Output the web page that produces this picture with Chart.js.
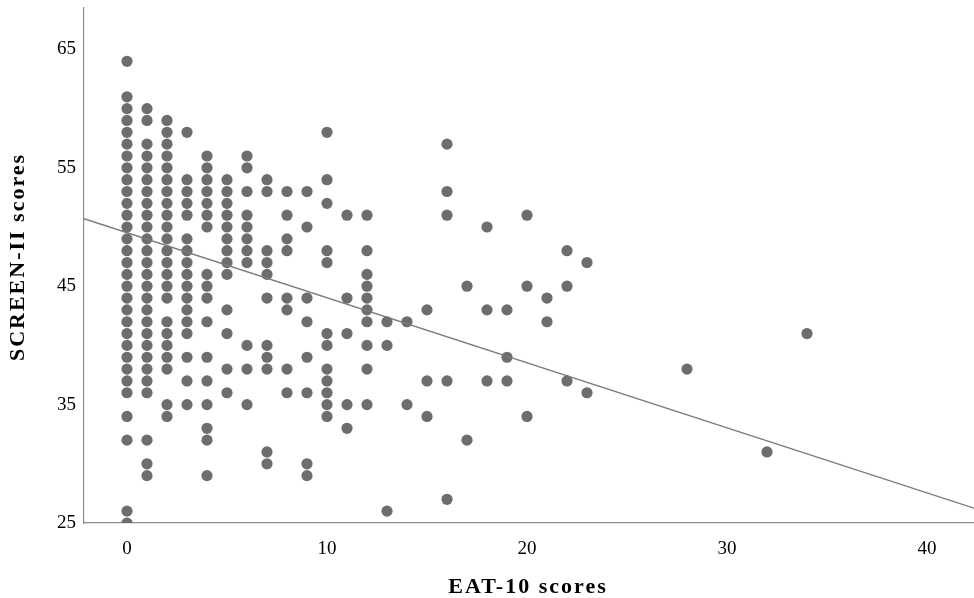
<!DOCTYPE html>
<html>
<head>
<meta charset="utf-8">
<script src="https://cdn.jsdelivr.net/npm/chart.js@4.4.1/dist/chart.umd.min.js"></script>
<style>
  html, body { margin: 0; padding: 0; background: #ffffff; }
  #wrap { width: 974px; height: 598px; }
</style>
</head>
<body>
<div id="wrap"><canvas id="scatter"></canvas></div>
<script>
// EAT-10 vs SCREEN-II scatter with fitted line

// EAT-10 score of each column of dots
var eatLevels = [0, 1, 2, 3, 4, 5, 6, 7, 8, 9, 10, 11, 12, 13, 14, 15, 16, 17, 18, 19, 20, 21, 22, 23, 28, 32, 34];

// SCREEN-II scores seen in each column (same order as eatLevels)
var screenAtLevel = [
  [64, 61, 60, 59, 58, 57, 56, 55, 54, 53, 52, 51, 50, 49, 48, 47, 46, 45, 44, 43, 42, 41, 40, 39, 38, 37, 36, 34, 32, 26, 25],
  [60, 59, 57, 56, 55, 54, 53, 52, 51, 50, 49, 48, 47, 46, 45, 44, 43, 42, 41, 40, 39, 38, 37, 36, 32, 30, 29],
  [59, 58, 57, 56, 55, 54, 53, 52, 51, 50, 49, 48, 47, 46, 45, 44, 42, 41, 40, 39, 38, 35, 34],
  [58, 54, 53, 52, 51, 49, 48, 47, 46, 45, 44, 43, 42, 41, 39, 37, 35],
  [56, 55, 54, 53, 52, 51, 50, 46, 45, 44, 42, 39, 37, 35, 33, 32, 29],
  [54, 53, 52, 51, 50, 49, 48, 47, 46, 43, 41, 38, 36],
  [56, 55, 53, 51, 50, 49, 48, 47, 40, 38, 35],
  [54, 53, 48, 47, 46, 44, 40, 39, 38, 31, 30],
  [53, 51, 49, 48, 44, 43, 38, 36],
  [53, 50, 44, 42, 39, 36, 30, 29],
  [58, 54, 52, 48, 47, 41, 40, 38, 37, 36, 35, 34],
  [51, 44, 41, 35, 33],
  [51, 48, 46, 45, 44, 43, 42, 40, 38, 35],
  [42, 40, 26],
  [42, 35],
  [43, 37, 34],
  [57, 53, 51, 37, 27],
  [45, 32],
  [50, 43, 37],
  [43, 39, 37],
  [51, 45, 34],
  [44, 42],
  [48, 45, 37],
  [47, 36],
  [38],
  [31],
  [41]
];

// Fit line end points, read where it meets the plot edges
var fitX = [-2.15, 42.35];
var fitY = [50.7, 26.25];

// Axis ticks and ranges
var xTicks = [0, 10, 20, 30, 40];
var yTicks = [25, 35, 45, 55, 65];
var xRange = [-2.15, 42.35];
var yRange = [25, 68.5];

var X_TITLE = 'EAT-10 scores';
var Y_TITLE = 'SCREEN-II scores';

var DOT_COLOR  = '#6d6d6d';
var LINE_COLOR = '#7a7a7a';
var AXIS_COLOR = '#8c8c8c';
var SERIF = '"Liberation Serif", "Times New Roman", serif';

// Flatten columns into {x, y} points
var points = [];
eatLevels.forEach(function(x, i) {
  screenAtLevel[i].forEach(function(y) { points.push({ x: x, y: y }); });
});

var fitPoints = fitX.map(function(x, i) { return { x: x, y: fitY[i] }; });

function fixedTicks(list) {
  return function(scale) {
    scale.ticks = list.map(function(v) { return { value: v }; });
  };
}

// Axis titles drawn by hand so they can be letter-spaced like the original
var axisTitlePlugin = {
  id: 'axisTitles',
  afterDraw: function(chart) {
    var ctx = chart.ctx;
    var area = chart.chartArea;
    ctx.save();
    ctx.font = 'bold 22px ' + SERIF;
    ctx.letterSpacing = '2px';
    ctx.fillStyle = '#000000';
    ctx.textAlign = 'center';
    ctx.textBaseline = 'middle';
    ctx.fillText(X_TITLE, 528, 587);
    ctx.translate(18, 257);
    ctx.rotate(-Math.PI / 2);
    ctx.fillText(Y_TITLE, 0, 0);
    ctx.restore();
  },
};

new Chart(document.getElementById('scatter'), {
  type: 'scatter',
  data: {
    datasets: [
      {
        label: 'Scores',
        data: points,
        backgroundColor: DOT_COLOR,
        borderWidth: 0,
        pointRadius: 5.6,
        pointHoverRadius: 5.6,
        order: 2,
      },
      {
        label: 'Fit',
        type: 'line',
        data: fitPoints,
        borderColor: LINE_COLOR,
        borderWidth: 1.4,
        pointRadius: 0,
        fill: false,
        order: 1,
      },
    ],
  },
  plugins: [axisTitlePlugin],
  options: {
    responsive: true,
    maintainAspectRatio: false,
    animation: false,
    layout: {
      autoPadding: false,   /* keep the plot flush with the right edge */
      padding: { top: 8, right: 0, left: 0, bottom: 0 },
    },
    plugins: {
      legend: { display: false },
      tooltip: { enabled: false },
    },
    scales: {
      x: {
        type: 'linear',
        min: xRange[0],
        max: xRange[1],
        afterBuildTicks: fixedTicks(xTicks),
        afterFit: function(scale) {
          scale.height = 75;
          scale.paddingLeft = 0;
          scale.paddingRight = 0;
        },
        grid: { display: false, drawTicks: false },
        border: { display: true, color: AXIS_COLOR, width: 1.2 },
        ticks: {
          color: '#000000',
          padding: 15,
          font: { family: SERIF, size: 19 },
        },
      },
      y: {
        type: 'linear',
        min: yRange[0],
        max: yRange[1],
        afterBuildTicks: fixedTicks(yTicks),
        afterFit: function(scale) {
          scale.width = 84;
          scale.paddingTop = 0;
          scale.paddingBottom = 0;
        },
        grid: { display: false, drawTicks: false },
        border: { display: true, color: AXIS_COLOR, width: 1.2 },
        ticks: {
          color: '#000000',
          padding: 8,
          font: { family: SERIF, size: 19 },
        },
      },
    },
  },
});
</script>
</body>
</html>
